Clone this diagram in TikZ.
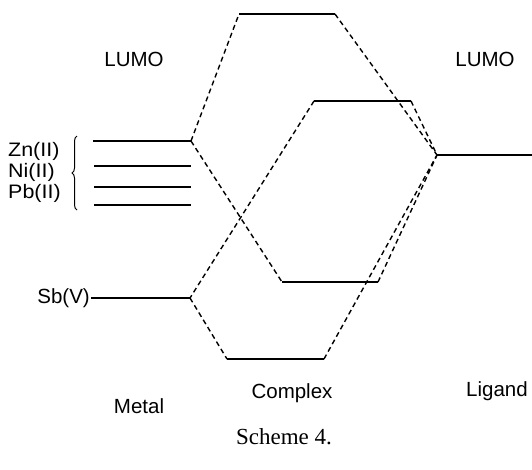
\documentclass[tikz,border=0pt]{standalone}
\usepackage{graphicx}
\usepackage{fontspec}
\setmainfont{Liberation Serif}
\newfontfamily\labelfont{Liberation Sans}
\usetikzlibrary{decorations.pathreplacing}
\begin{document}
\begin{tikzpicture}[x=1pt,y=-1pt,
  level/.style={line width=1.6pt},
  corr/.style={line width=1.4pt,dash pattern=on 5pt off 3.5pt},
  lbl/.style={font=\labelfont\fontsize{20.5}{22}\selectfont,inner sep=0pt},
  ion/.style={font=\labelfont\fontsize{19.5}{21}\selectfont,inner sep=0pt,anchor=west},
  caption/.style={font=\fontsize{23}{26}\selectfont,inner sep=0pt}]
\useasboundingbox (0,0) rectangle (532,469);

% metal levels
\coordinate (zn1) at (93,141);  \coordinate (zn2) at (191,141);
\coordinate (ni1) at (94,166);  \coordinate (ni2) at (191,166);
\coordinate (pb1) at (94,187);  \coordinate (pb2) at (191,187);
\coordinate (m41) at (94,205);  \coordinate (m42) at (191,205);
\coordinate (sb1) at (91,298);  \coordinate (sb2) at (190,298);
% complex levels
\coordinate (c11) at (239,14);  \coordinate (c12) at (335,14);
\coordinate (c21) at (314,101); \coordinate (c22) at (411,101);
\coordinate (c31) at (282,282); \coordinate (c32) at (378,282);
\coordinate (c41) at (227,359); \coordinate (c42) at (324,359);
% ligand level
\coordinate (lg1) at (437,155); \coordinate (lg2) at (532,155);

\foreach \a/\b in {zn1/zn2,ni1/ni2,pb1/pb2,m41/m42,sb1/sb2,c11/c12,c21/c22,c31/c32,c41/c42,lg1/lg2}
  \draw[level] (\a) -- (\b);

% correlation lines
\draw[corr] (zn2) -- (c11);
\draw[corr] (c12) -- (lg1);
\draw[corr] (zn2) -- (c31);
\draw[corr] (c21) -- (sb2);
\draw[corr] (c22) -- (lg1);
\draw[corr] (sb2) -- (c41);
\draw[corr] (c42) -- (lg1);
\draw[corr] (c32) -- (lg1);

% brace grouping the divalent metals
\coordinate (br1) at (77,210); \coordinate (br2) at (77,136);
\draw[line width=1pt,decorate,decoration={brace,amplitude=5pt}] (br1) -- (br2);

% labels
\node[lbl] (lumoL) at (134,59) {LUMO};
\node[lbl] (lumoR) at (485,59) {LUMO};
\node[ion] (zn) at (8,151) {\scalebox{1.1}[1]{Zn(II)}};
\node[ion] (ni) at (8,172) {\scalebox{1.1}[1]{Ni(II)}};
\node[ion] (pb) at (8,193) {\scalebox{1.1}[1]{Pb(II)}};
\node[lbl,anchor=east] (sb) at (90,298) {Sb(V)};
\node[lbl] (metal) at (139,406) {Metal};
\node[lbl] (complex) at (292,393) {Complex};
\node[lbl] (ligand) at (497,391) {Ligand};
\node[caption] (scheme) at (284,437) {Scheme 4.};
\end{tikzpicture}
\end{document}
